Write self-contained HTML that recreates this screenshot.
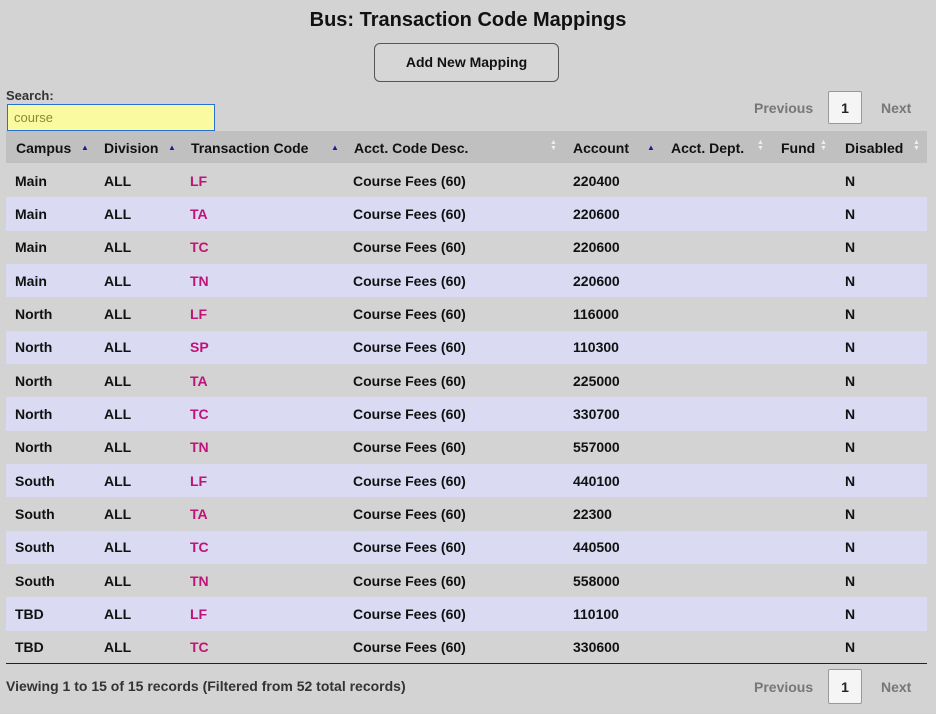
<!DOCTYPE html>
<html><head><style>
body{margin:0;width:936px;height:714px;background:#d3d3d3;font-family:"Liberation Sans",sans-serif;color:#111;position:relative;overflow:hidden}
.a{position:absolute;white-space:nowrap}
h1{position:absolute;top:9px;left:0;width:936px;text-align:center;margin:0;font-size:20px;font-weight:bold}
.btn{left:374px;top:43px;width:183px;height:37px;border:1px solid #555;border-radius:6px;background:#d6d6d6;font-size:14px;font-weight:bold;text-align:center;line-height:37px}
.inp{left:7px;top:104px;border:1px solid #2a6fd6;background:#fafaa0;color:#8a8a30;font-size:13px;line-height:25px;padding-left:6px;box-sizing:border-box;width:208px;height:27px}
.pg{font-size:14px;font-weight:bold;color:#777}
.pb{width:34px;height:33px;border:1px solid #999;border-radius:2px;background:#f5f5f5;text-align:center;line-height:33px;font-size:14px;font-weight:bold;color:#222;box-sizing:border-box}
.hd{left:6px;top:131px;width:921px;height:32px;background:#c0c0c0}
.h{top:140px;font-size:14px;font-weight:bold}
.s{font-size:8px;color:#1a1a9a;top:143px}
.u{font-size:7px;color:#eee;top:140px;line-height:6px}
table{position:absolute;left:6px;top:164px;width:921px;border-collapse:collapse;font-size:14px;font-weight:bold;table-layout:fixed}
td{height:33.33px;padding:0}
tr.l td{background:#dadaf3}
.c{color:#c0137a}
</style></head><body>
<h1>Bus: Transaction Code Mappings</h1>
<div class="a btn">Add New Mapping</div>
<div class="a" style="left:6px;top:88px;font-size:13px;font-weight:bold;color:#333">Search:</div>
<div class="a inp">course</div>
<div class="a pg" style="left:754px;top:100px">Previous</div>
<div class="a pb" style="left:828px;top:91px">1</div>
<div class="a pg" style="left:881px;top:100px">Next</div>
<div class="a hd"></div>
<div class="a h" style="left:16px">Campus</div><div class="a s" style="left:81px">▲</div>
<div class="a h" style="left:104px">Division</div><div class="a s" style="left:168px">▲</div>
<div class="a h" style="left:191px">Transaction Code</div><div class="a s" style="left:331px">▲</div>
<div class="a h" style="left:354px">Acct. Code Desc.</div><div class="a u" style="left:550px">▲<br>▼</div>
<div class="a h" style="left:573px">Account</div><div class="a s" style="left:647px">▲</div>
<div class="a h" style="left:671px">Acct. Dept.</div><div class="a u" style="left:757px">▲<br>▼</div>
<div class="a h" style="left:781px">Fund</div><div class="a u" style="left:820px">▲<br>▼</div>
<div class="a h" style="left:845px">Disabled</div><div class="a u" style="left:913px">▲<br>▼</div>
<table>
<colgroup><col style="width:98px"><col style="width:86px"><col style="width:163px"><col style="width:220px"><col style="width:97px"><col style="width:111px"><col style="width:64px"><col></colgroup>
<tr><td style="padding-left:9px">Main</td><td>ALL</td><td class="c">LF</td><td>Course Fees (60)</td><td>220400</td><td></td><td></td><td>N</td></tr>
<tr class="l"><td style="padding-left:9px">Main</td><td>ALL</td><td class="c">TA</td><td>Course Fees (60)</td><td>220600</td><td></td><td></td><td>N</td></tr>
<tr><td style="padding-left:9px">Main</td><td>ALL</td><td class="c">TC</td><td>Course Fees (60)</td><td>220600</td><td></td><td></td><td>N</td></tr>
<tr class="l"><td style="padding-left:9px">Main</td><td>ALL</td><td class="c">TN</td><td>Course Fees (60)</td><td>220600</td><td></td><td></td><td>N</td></tr>
<tr><td style="padding-left:9px">North</td><td>ALL</td><td class="c">LF</td><td>Course Fees (60)</td><td>116000</td><td></td><td></td><td>N</td></tr>
<tr class="l"><td style="padding-left:9px">North</td><td>ALL</td><td class="c">SP</td><td>Course Fees (60)</td><td>110300</td><td></td><td></td><td>N</td></tr>
<tr><td style="padding-left:9px">North</td><td>ALL</td><td class="c">TA</td><td>Course Fees (60)</td><td>225000</td><td></td><td></td><td>N</td></tr>
<tr class="l"><td style="padding-left:9px">North</td><td>ALL</td><td class="c">TC</td><td>Course Fees (60)</td><td>330700</td><td></td><td></td><td>N</td></tr>
<tr><td style="padding-left:9px">North</td><td>ALL</td><td class="c">TN</td><td>Course Fees (60)</td><td>557000</td><td></td><td></td><td>N</td></tr>
<tr class="l"><td style="padding-left:9px">South</td><td>ALL</td><td class="c">LF</td><td>Course Fees (60)</td><td>440100</td><td></td><td></td><td>N</td></tr>
<tr><td style="padding-left:9px">South</td><td>ALL</td><td class="c">TA</td><td>Course Fees (60)</td><td>22300</td><td></td><td></td><td>N</td></tr>
<tr class="l"><td style="padding-left:9px">South</td><td>ALL</td><td class="c">TC</td><td>Course Fees (60)</td><td>440500</td><td></td><td></td><td>N</td></tr>
<tr><td style="padding-left:9px">South</td><td>ALL</td><td class="c">TN</td><td>Course Fees (60)</td><td>558000</td><td></td><td></td><td>N</td></tr>
<tr class="l"><td style="padding-left:9px">TBD</td><td>ALL</td><td class="c">LF</td><td>Course Fees (60)</td><td>110100</td><td></td><td></td><td>N</td></tr>
<tr><td style="padding-left:9px">TBD</td><td>ALL</td><td class="c">TC</td><td>Course Fees (60)</td><td>330600</td><td></td><td></td><td>N</td></tr>
</table>
<div class="a" style="left:6px;top:663px;width:921px;height:1px;background:#222"></div>
<div class="a" style="left:6px;top:678px;font-size:14px;font-weight:bold;color:#333">Viewing 1 to 15 of 15 records (Filtered from 52 total records)</div>
<div class="a pg" style="left:754px;top:679px">Previous</div>
<div class="a pb" style="left:828px;top:669px;height:35px;line-height:35px">1</div>
<div class="a pg" style="left:881px;top:679px">Next</div>
</body></html>
